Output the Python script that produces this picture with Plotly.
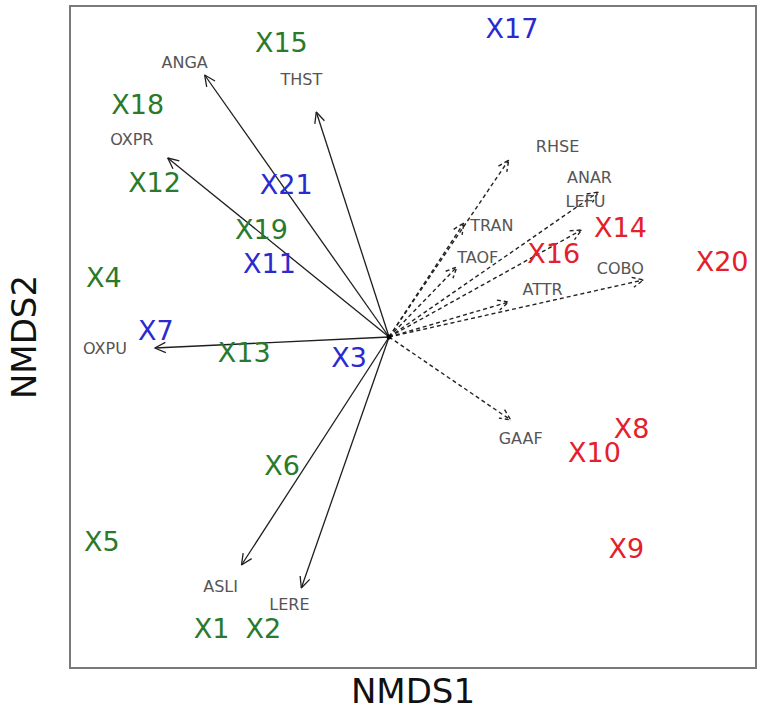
import numpy as np
import plotly.graph_objects as go

# Site scores (NMDS axes 1 and 2) with their group
sites = ["X1", "X2", "X3", "X4", "X5", "X6", "X7", "X8", "X9", "X10", "X11",
         "X12", "X13", "X14", "X15", "X16", "X17", "X18", "X19", "X20", "X21"]
site_nmds1 = [-0.445, -0.315, -0.100, -0.715, -0.720, -0.268, -0.585, 0.608, 0.595, 0.515, -0.300,
              -0.588, -0.363, 0.580, -0.270, 0.413, 0.308, -0.630, -0.320, 0.835, -0.258]
site_nmds2 = [-0.735, -0.735, -0.058, 0.143, -0.518, -0.328, 0.010, -0.235, -0.535, -0.295, 0.178,
              0.380, -0.045, 0.266, 0.730, 0.203, 0.765, 0.575, 0.262, 0.183, 0.375]
site_group = ["g", "g", "b", "g", "g", "g", "b", "r", "r", "r", "b",
              "g", "g", "r", "g", "r", "b", "g", "g", "r", "b"]

# Fitted vectors: solid = first set, dashed = second set
solid_vars = ["ANGA", "THST", "OXPR", "OXPU", "ASLI", "LERE"]
solid_x = [-0.4625, -0.1825, -0.555, -0.5875, -0.370, -0.220]
solid_y = [0.655, 0.5625, 0.4475, -0.0275, -0.570, -0.6275]
solid_lab_x = [-0.5125, -0.220, -0.645, -0.7125, -0.4225, -0.250]
solid_lab_y = [0.6825, 0.640, 0.490, -0.0325, -0.6275, -0.6725]

dashed_vars = ["RHSE", "ANAR", "LEFU", "TRAN", "TAOF", "COBO", "ATTR", "GAAF"]
dashed_x = [0.300, 0.525, 0.4825, 0.1875, 0.170, 0.6375, 0.300, 0.305]
dashed_y = [0.4425, 0.3625, 0.2675, 0.285, 0.175, 0.1425, 0.0875, -0.2075]
dashed_lab_x = [0.4225, 0.5025, 0.4925, 0.2575, 0.2225, 0.580, 0.385, 0.330]
dashed_lab_y = [0.4725, 0.395, 0.336, 0.275, 0.195, 0.1675, 0.115, -0.2575]

group_colors = {"g": "#2b7a2b", "b": "#2a2ad0", "r": "#e3202b"}


def arrow_paths(xs, ys, head=0.03, half_angle=np.radians(25)):
    """Shaft from the origin plus an open chevron head for each vector."""
    px, py = [], []
    for x, y in zip(xs, ys):
        ang = np.arctan2(y, x)
        px += [0.0, x, None]
        py += [0.0, y, None]
        for s in (-1, 1):
            a = ang + np.pi + s * half_angle
            px.append(x + head * np.cos(a))
            py.append(y + head * np.sin(a))
            if s == -1:
                px.append(x)
                py.append(y)
        px.append(None)
        py.append(None)
    return px, py


fig = go.Figure()

sx, sy = arrow_paths(solid_x, solid_y)
fig.add_trace(go.Scatter(x=sx, y=sy, mode="lines",
                         line=dict(color="#1e1e1e", width=1.3),
                         hoverinfo="skip", showlegend=False))

dx, dy = arrow_paths(dashed_x, dashed_y)
fig.add_trace(go.Scatter(x=dx, y=dy, mode="lines",
                         line=dict(color="#222222", width=1.4, dash="4px,3px"),
                         hoverinfo="skip", showlegend=False))

fig.add_trace(go.Scatter(x=[0], y=[0], mode="markers",
                         marker=dict(color="black", size=5),
                         hoverinfo="skip", showlegend=False))

fig.add_trace(go.Scatter(x=solid_lab_x + dashed_lab_x, y=solid_lab_y + dashed_lab_y,
                         mode="text", text=solid_vars + dashed_vars,
                         textposition="middle center",
                         textfont=dict(family="DejaVu Sans", size=16, color="#555555"),
                         hoverinfo="skip", showlegend=False))

for g in ["g", "b", "r"]:
    idx = [i for i, v in enumerate(site_group) if v == g]
    fig.add_trace(go.Scatter(x=[site_nmds1[i] for i in idx],
                             y=[site_nmds2[i] for i in idx],
                             mode="text", text=[sites[i] for i in idx],
                             textposition="middle center",
                             textfont=dict(family="DejaVu Sans", size=27, color=group_colors[g]),
                             showlegend=False))

fig.update_layout(
    width=759, height=711,
    margin=dict(l=71, r=2, t=7, b=44),
    paper_bgcolor="white", plot_bgcolor="white",
    xaxis=dict(range=[-0.7975, 0.9175], showgrid=False, zeroline=False,
               showticklabels=False, ticks="", showline=True, mirror=True,
               linecolor="#7a7a7a", linewidth=2,
               title=dict(text="NMDS1", standoff=17,
                          font=dict(family="DejaVu Sans", size=34, color="#111111"))),
    yaxis=dict(range=[-0.825, 0.825], showgrid=False, zeroline=False,
               showticklabels=False, ticks="", showline=True, mirror=True,
               linecolor="#7a7a7a", linewidth=2,
               title=dict(text="NMDS2", standoff=22,
                          font=dict(family="DejaVu Sans", size=34, color="#111111"))),
)

fig.write_html("out.html")
